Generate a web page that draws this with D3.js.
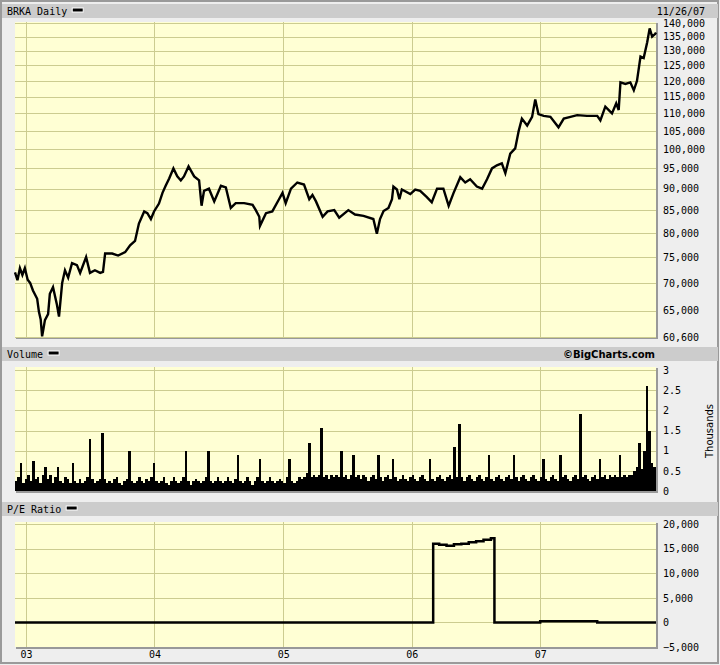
<!DOCTYPE html>
<html>
<head>
<meta charset="utf-8">
<script src="https://cdn.jsdelivr.net/npm/d3@7"></script>
<style>
  body { margin: 0; background: #eeeeee; }
  #visualization { width: 720px; height: 665px; }
  text { font-family: "DejaVu Sans Mono", monospace; font-size: 10px; fill: #000; }
</style>
</head>
<body>
<div id="visualization"></div>
<script>
// BRKA daily chart: price, volume, P/E ratio

// Price (close)
const priceDates = [
  "2002-12-01","2002-12-08","2002-12-15","2002-12-22","2002-12-29","2003-01-06","2003-01-13","2003-01-21",
  "2003-02-02","2003-02-07","2003-02-12","2003-02-16","2003-02-20","2003-02-24","2003-03-05","2003-03-10",
  "2003-03-19","2003-03-30","2003-04-05","2003-04-14","2003-04-22","2003-05-01","2003-05-12","2003-05-26",
  "2003-06-04","2003-06-21","2003-07-02","2003-07-16","2003-07-31","2003-08-08","2003-08-14","2003-09-03",
  "2003-09-20","2003-10-10","2003-10-24","2003-11-07","2003-11-18","2003-12-03","2003-12-12","2003-12-22",
  "2003-12-31","2004-01-14","2004-01-24","2004-02-02","2004-02-12","2004-02-24","2004-03-06","2004-03-16",
  "2004-03-25","2004-04-07","2004-04-23","2004-05-07","2004-05-14","2004-05-21","2004-06-04","2004-06-19",
  "2004-07-08","2004-07-22","2004-08-05","2004-08-19","2004-09-12","2004-10-06","2004-10-15","2004-10-25",
  "2004-10-27","2004-11-13","2004-12-01","2004-12-20","2004-12-30","2005-01-08","2005-01-23","2005-02-10",
  "2005-03-01","2005-03-16","2005-03-25","2005-04-04","2005-04-23","2005-05-07","2005-05-26","2005-06-09",
  "2005-07-05","2005-07-24","2005-08-17","2005-09-14","2005-09-24","2005-10-03","2005-10-13","2005-10-27",
  "2005-11-06","2005-11-10","2005-11-20","2005-11-27","2005-12-04","2005-12-28","2006-01-11","2006-01-25",
  "2006-02-13","2006-02-27","2006-03-14","2006-04-01","2006-04-16","2006-04-30","2006-05-19","2006-06-02",
  "2006-06-16","2006-07-05","2006-07-20","2006-08-03","2006-08-17","2006-08-31","2006-09-14","2006-09-24",
  "2006-10-08","2006-10-22","2006-11-01","2006-11-10","2006-11-25","2006-12-09","2006-12-18","2006-12-27",
  "2007-01-11","2007-01-30","2007-02-22","2007-03-09","2007-03-28","2007-04-16","2007-05-14","2007-06-12",
  "2007-06-21","2007-07-05","2007-07-24","2007-08-05","2007-08-12","2007-08-17","2007-08-31","2007-09-14",
  "2007-09-24","2007-10-03","2007-10-13","2007-10-22","2007-11-01","2007-11-08","2007-11-15","2007-11-24",
  "2007-11-26"
];
const priceValues = [
  72000,70500,72800,71500,72800,70600,70000,68600,
  67100,64800,63500,60700,62000,63400,64400,68000,
  69200,66100,64000,70000,72400,71000,73800,73400,
  71900,75000,71900,72400,71900,72100,75700,75700,
  75300,76000,77400,78300,82000,84700,84300,83000,
  84700,86500,89000,90700,92500,95000,93000,92000,
  93000,95500,93000,92000,86000,89500,90000,87000,
  90700,90300,85500,86600,86600,86200,85000,83500,
  81500,84300,84700,87500,89000,86600,90000,91500,
  91000,87500,88500,87000,83500,84700,85000,83300,
  85000,84000,83700,83000,79800,83000,84800,85500,
  87500,90500,89800,87500,89800,88700,89800,89500,
  88000,86800,90000,90000,86000,89000,92800,91500,
  92300,90500,90000,92300,95000,95800,96300,93800,
  98800,100200,105000,108500,106500,109000,114200,109800,
  109300,109000,106000,108500,109000,109500,109300,109300,
  108000,112000,110000,113000,111000,119500,119000,119500,
  117000,120000,128000,127500,133000,138000,135000,136000,
  136500
];
const priceTicks = [60600,65000,70000,75000,80000,85000,90000,95000,100000,
  105000,110000,115000,120000,125000,130000,135000,140000];

// Weekly volume in thousands of shares, starting the week of 2002-12-02
const volStart = "2002-12-02";
const volValues = [
  0.25,0.35,0.7,0.2,0.3,0.4,0.25,0.75,0.3,0.35,0.2,0.4,0.6,
  0.3,0.4,0.2,0.35,0.6,0.25,0.2,0.35,0.3,0.2,0.7,0.25,
  0.2,0.3,0.2,0.25,0.35,1.3,0.3,0.2,0.25,0.3,1.45,0.3,0.2,
  0.25,0.2,0.3,0.35,0.2,0.15,0.25,0.3,1.0,0.25,0.2,0.25,0.35,
  0.25,0.2,0.3,0.25,0.35,0.7,0.25,0.2,0.25,0.35,0.2,0.15,0.25,
  0.35,0.25,0.2,0.25,0.35,1.0,0.25,0.15,0.25,0.3,0.25,0.2,0.25,
  0.35,1.0,0.25,0.2,0.25,0.35,0.25,0.2,0.25,0.35,0.25,0.2,0.3,
  0.9,0.25,0.2,0.25,0.35,0.25,0.15,0.25,0.35,0.8,0.25,0.2,0.25,
  0.35,0.25,0.2,0.25,0.3,0.25,0.2,0.35,0.8,0.25,0.2,0.25,0.35,
  0.3,0.35,0.45,1.2,0.35,0.4,0.35,0.4,1.55,0.35,0.4,0.3,0.4,
  0.35,0.4,0.35,1.0,0.35,0.4,0.3,0.4,0.9,0.35,0.4,0.3,0.4,
  0.35,0.25,0.35,0.4,0.3,0.9,0.35,0.25,0.35,0.4,0.3,0.8,0.35,
  0.25,0.3,0.4,0.3,0.25,0.35,0.4,0.3,0.25,0.35,0.4,0.3,0.25,
  0.8,0.3,0.25,0.35,0.4,0.3,0.25,0.35,0.4,0.3,1.1,0.35,1.65,
  0.35,0.25,0.35,0.4,0.3,0.25,0.35,0.4,0.3,0.25,0.35,0.9,0.3,
  0.25,0.35,0.4,0.3,0.25,0.35,0.4,0.3,0.9,0.35,0.25,0.35,0.4,
  0.3,0.25,0.35,0.4,0.3,0.25,0.35,0.8,0.3,0.25,0.35,0.4,0.3,
  0.25,0.9,0.35,0.4,0.3,0.25,0.35,0.4,0.3,1.9,0.35,0.4,0.3,
  0.25,0.35,0.4,0.3,0.8,0.35,0.4,0.3,0.4,0.35,0.4,0.35,0.9,
  0.35,0.4,0.35,0.4,0.4,0.5,0.6,1.2,0.55,1.0,2.6,1.5,0.7,
  0.6
];
const volTicks = [0, 0.5, 1, 1.5, 2, 2.5, 3];

// P/E ratio (step series)
const peDates = ["2002-12-01","2006-03-03","2006-03-20","2006-04-10","2006-05-01","2006-05-22",
  "2006-06-12","2006-07-03","2006-07-24","2006-08-14","2006-08-24","2007-01-01","2007-06-12","2007-11-26"];
const peValues = [0,16000,15800,15600,15900,16000,16300,16500,16800,17100,0,250,0,0];
const peTicks = [-5000, 0, 5000, 10000, 15000, 20000];

const yearDates = ["2003-01-01","2004-01-01","2005-01-01","2006-01-01","2007-01-01"];
const yearLabels = ["03","04","05","06","07"];

document.addEventListener("DOMContentLoaded", function () {
  const W = 720, H = 665;
  const plotL = 15, plotR = 656;
  const parse = d3.timeParse("%Y-%m-%d");
  const grid = "#cccc90";
  const bg = "#ffffd4";

  const svg = d3.select("#visualization").append("svg")
    .attr("width", W).attr("height", H);

  // outer frame
  svg.append("rect").attr("x", 0).attr("y", 0).attr("width", W).attr("height", H).attr("fill", "#eeeeee");
  svg.append("rect").attr("x", 1).attr("y", 1).attr("width", W - 3).attr("height", H - 3)
    .attr("fill", "none").attr("stroke", "#9a9a9a").attr("stroke-width", 2);

  const x = d3.scaleTime()
    .domain([new Date(2002, 11, 1), new Date(2007, 10, 26)])
    .range([plotL, plotR]);

  const fmt = d3.format(",");

  // panel frame helper: header band, plot background, shadow
  function panel(bandY, title, top, bottom) {
    svg.append("rect").attr("x", 2).attr("y", bandY).attr("width", W - 4).attr("height", 14).attr("fill", "#cccccc");
    const t = svg.append("text").attr("x", 7).attr("y", bandY + 11).text(title);
    const tw = t.node().getComputedTextLength();
    svg.append("rect").attr("x", 7 + tw + 5).attr("y", bandY + 4).attr("width", 11).attr("height", 4)
      .attr("fill", "#000").attr("stroke", "#fff").attr("stroke-width", 1);
    svg.append("rect").attr("x", plotL + 1).attr("y", top + 1).attr("width", plotR - plotL + 1).attr("height", bottom - top + 1)
      .attr("fill", "#999999");
    svg.append("rect").attr("x", plotL).attr("y", top).attr("width", plotR - plotL).attr("height", bottom - top)
      .attr("fill", bg);
  }

  function vgrid(top, bottom) {
    svg.append("g").selectAll("line").data(yearDates).enter().append("line")
      .attr("x1", d => Math.round(x(parse(d))) + 0.5).attr("x2", d => Math.round(x(parse(d))) + 0.5)
      .attr("y1", top).attr("y2", bottom)
      .attr("stroke", grid).attr("stroke-width", 1);
  }

  function hgrid(scale, ticks) {
    svg.append("g").selectAll("line").data(ticks).enter().append("line")
      .attr("x1", plotL).attr("x2", plotR)
      .attr("y1", d => Math.round(scale(d)) + 0.5).attr("y2", d => Math.round(scale(d)) + 0.5)
      .attr("stroke", grid).attr("stroke-width", 1);
  }

  function rightAxis(scale, ticks, format) {
    const g = svg.append("g")
      .attr("transform", `translate(${plotR}, 0)`)
      .call(d3.axisRight(scale).tickValues(ticks).tickSize(0).tickPadding(7).tickFormat(format));
    g.select(".domain").remove();
    g.selectAll("text").style("font-family", "DejaVu Sans Mono, monospace").style("font-size", "10px").attr("fill", "#000");
  }

  // ---------- Price panel ----------
  panel(4, "BRKA Daily", 22, 337);
  svg.append("text").attr("x", 705).attr("y", 15).attr("text-anchor", "end").text("11/26/07");

  const yP = d3.scaleLog().domain([60600, 140000]).range([337, 23]);
  hgrid(yP, priceTicks);
  vgrid(22, 337);
  rightAxis(yP, priceTicks, fmt);

  const priceData = priceDates.map((d, i) => ({ date: parse(d), value: priceValues[i] }));
  svg.append("path").datum(priceData)
    .attr("fill", "none").attr("stroke", "#000").attr("stroke-width", 2.4).attr("stroke-linejoin", "miter")
    .attr("d", d3.line().x(d => x(d.date)).y(d => yP(d.value)));

  // ---------- Volume panel ----------
  panel(347, "Volume", 367, 491);
  svg.append("text").attr("x", 655).attr("y", 358).attr("text-anchor", "end")
    .style("font-family", "DejaVu Sans, sans-serif").style("font-weight", "bold").style("font-size", "10px")
    .attr("fill", "#777777").text("\u00a9BigCharts.com");

  const yV = d3.scaleLinear().domain([0, 3]).range([491, 370]);
  hgrid(yV, volTicks.filter(d => d > 0));
  vgrid(367, 491);
  rightAxis(yV, volTicks, d => d);
  svg.append("text")
    .attr("transform", "translate(713, 431) rotate(-90)")
    .attr("text-anchor", "middle")
    .style("font-family", "DejaVu Sans, sans-serif")
    .text("Thousands");

  const start = parse(volStart);
  const volData = volValues.map((v, i) => ({ date: d3.timeWeek.offset(start, i), value: v }));
  svg.append("g").attr("shape-rendering", "crispEdges")
    .selectAll("rect").data(volData).enter().append("rect")
    .attr("x", d => Math.floor(x(d.date)))
    .attr("width", d => Math.floor(Math.min(plotR, x(d3.timeWeek.offset(d.date, 1)))) - Math.floor(x(d.date)))
    .attr("y", d => Math.round(yV(d.value)))
    .attr("height", d => Math.round(yV(0)) - Math.round(yV(d.value)))
    .attr("fill", "#000");

  // ---------- P/E panel ----------
  panel(502, "P/E Ratio", 522, 647);
  const yE = d3.scaleLinear().domain([-5000, 20000]).range([647, 524]);
  hgrid(yE, peTicks.filter(d => d > -5000));
  vgrid(522, 647);
  rightAxis(yE, peTicks, fmt);

  const peData = peDates.map((d, i) => ({ date: parse(d), value: peValues[i] }));
  svg.append("path").datum(peData)
    .attr("fill", "none").attr("stroke", "#000").attr("stroke-width", 2.5)
    .attr("d", d3.line().curve(d3.curveStepAfter).x(d => x(d.date)).y(d => yE(d.value)));

  // year labels under the last panel
  const xa = svg.append("g")
    .attr("transform", "translate(0, 647)")
    .call(d3.axisBottom(x).tickValues(yearDates.map(parse)).tickSize(0).tickPadding(4)
      .tickFormat((d, i) => yearLabels[i]));
  xa.select(".domain").remove();
  xa.selectAll("text").style("font-family", "DejaVu Sans Mono, monospace").style("font-size", "10px").attr("fill", "#000");
});
</script>
</body>
</html>
